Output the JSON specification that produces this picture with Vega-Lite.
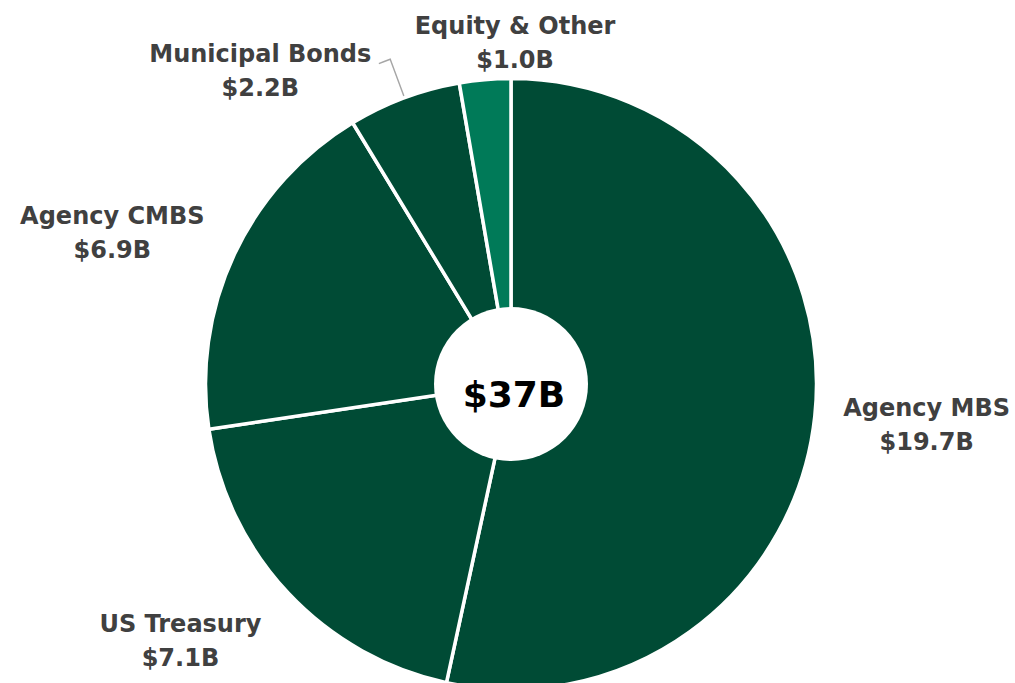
{
  "$schema": "https://vega.github.io/schema/vega-lite/v6.json",
  "width": 1008,
  "height": 598,
  "autosize": {"type": "none"},
  "padding": {"left": 7, "top": 85, "right": 0, "bottom": 0},
  "background": "white",
  "config": {"view": {"stroke": null}},
  "datasets": {
    "portfolio": [
      {"category": "Agency MBS", "value": 19.7, "label": "Agency MBS\n$19.7B", "rank": 1},
      {"category": "US Treasury", "value": 7.1, "label": "US Treasury\n$7.1B", "rank": 2},
      {"category": "Agency CMBS", "value": 6.9, "label": "Agency CMBS\n$6.9B", "rank": 3},
      {"category": "Municipal Bonds", "value": 2.2, "label": "Municipal Bonds\n$2.2B", "rank": 4},
      {"category": "Equity & Other", "value": 1.0, "label": "Equity & Other\n$1.0B", "rank": 5}
    ],
    "total": [{"t": "$37B"}],
    "leader": [{"item": "Municipal Bonds"}]
  },
  "data": {"name": "portfolio"},
  "layer": [
    {
      "mark": {"type": "arc", "radius": 305.5, "stroke": "white", "strokeWidth": 3.5},
      "encoding": {
        "theta": {"field": "value", "type": "quantitative", "stack": true},
        "order": {"field": "rank", "type": "quantitative"},
        "color": {
          "field": "category", "type": "nominal", "legend": null,
          "scale": {
            "domain": ["Agency MBS", "US Treasury", "Agency CMBS", "Municipal Bonds", "Equity & Other"],
            "range": ["#004B35", "#004B35", "#004B35", "#004B35", "#007A58"]
          }
        }
      }
    },
    {
      "data": {"name": "leader"},
      "mark": {"type": "arc", "fillOpacity": 0, "stroke": "#A6A6A6", "strokeWidth": 1.4},
      "encoding": {
        "theta": {"value": 5.9270},
        "theta2": {"value": 5.9271},
        "radius": {"value": 308},
        "radius2": {"value": 346}
      }
    },
    {
      "data": {"name": "leader"},
      "mark": {"type": "arc", "fillOpacity": 0, "stroke": "#A6A6A6", "strokeWidth": 1.4},
      "encoding": {
        "theta": {"value": 5.894},
        "theta2": {"value": 5.9271},
        "radius": {"value": 346.5},
        "radius2": {"value": 346.6}
      }
    },
    {
      "mark": {"type": "text", "font": "DejaVu Sans", "fontWeight": "bold", "fontSize": 24, "lineHeight": 34, "lineBreak": "\n", "color": "#404040", "radius": 418, "dy": -19},
      "encoding": {
        "theta": {"field": "value", "type": "quantitative", "stack": true},
        "order": {"field": "rank", "type": "quantitative"},
        "detail": {"field": "category"},
        "text": {"condition": {"test": "datum.category === 'Agency MBS'", "field": "label"}, "value": ""}
      }
    },
    {
      "mark": {"type": "text", "font": "DejaVu Sans", "fontWeight": "bold", "fontSize": 24, "lineHeight": 34, "lineBreak": "\n", "color": "#404040", "radius": 419, "dx": -25, "dy": -46},
      "encoding": {
        "theta": {"field": "value", "type": "quantitative", "stack": true},
        "order": {"field": "rank", "type": "quantitative"},
        "detail": {"field": "category"},
        "text": {"condition": {"test": "datum.category === 'US Treasury'", "field": "label"}, "value": ""}
      }
    },
    {
      "mark": {"type": "text", "font": "DejaVu Sans", "fontWeight": "bold", "fontSize": 24, "lineHeight": 34, "lineBreak": "\n", "color": "#404040", "radius": 426, "dx": -13, "dy": 14},
      "encoding": {
        "theta": {"field": "value", "type": "quantitative", "stack": true},
        "order": {"field": "rank", "type": "quantitative"},
        "detail": {"field": "category"},
        "text": {"condition": {"test": "datum.category === 'Agency CMBS'", "field": "label"}, "value": ""}
      }
    },
    {
      "mark": {"type": "text", "font": "DejaVu Sans", "fontWeight": "bold", "fontSize": 24, "lineHeight": 34, "lineBreak": "\n", "color": "#404040", "radius": 402, "dx": -110, "dy": 48},
      "encoding": {
        "theta": {"field": "value", "type": "quantitative", "stack": true},
        "order": {"field": "rank", "type": "quantitative"},
        "detail": {"field": "category"},
        "text": {"condition": {"test": "datum.category === 'Municipal Bonds'", "field": "label"}, "value": ""}
      }
    },
    {
      "mark": {"type": "text", "font": "DejaVu Sans", "fontWeight": "bold", "fontSize": 24, "lineHeight": 34, "lineBreak": "\n", "color": "#404040", "radius": 340, "dx": 33, "dy": -18},
      "encoding": {
        "theta": {"field": "value", "type": "quantitative", "stack": true},
        "order": {"field": "rank", "type": "quantitative"},
        "detail": {"field": "category"},
        "text": {"condition": {"test": "datum.category === 'Equity & Other'", "field": "label"}, "value": ""}
      }
    },
    {
      "data": {"name": "total"},
      "mark": {"type": "point", "shape": "circle", "size": 23716, "filled": true, "fill": "white", "opacity": 1, "strokeWidth": 0},
      "encoding": {
        "theta": {"value": 2.875},
        "radius": {"value": 11.4}
      }
    },
    {
      "data": {"name": "total"},
      "mark": {"type": "text", "font": "DejaVu Sans", "fontWeight": "bold", "fontSize": 36, "color": "black", "dy": 1},
      "encoding": {
        "theta": {"value": 2.875},
        "radius": {"value": 11.4},
        "text": {"field": "t"}
      }
    }
  ]
}
